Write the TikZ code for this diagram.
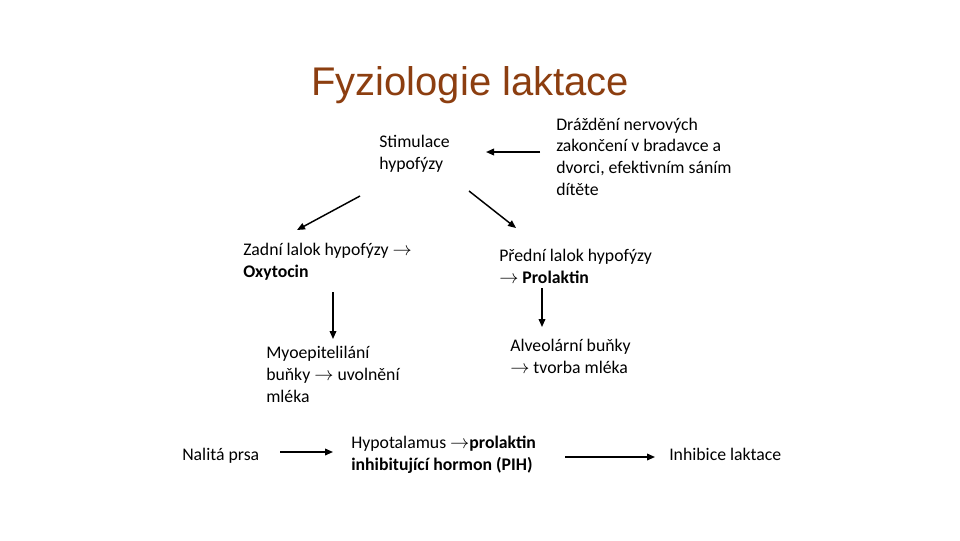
\documentclass[tikz,border=0pt]{standalone}
\usepackage{fontspec}
\usetikzlibrary{arrows.meta}
\setmainfont{Carlito}
\newfontfamily\titlefont{Liberation Sans}
\definecolor{titlebrown}{RGB}{140,62,16}
\newcommand{\ra}{$\rightarrow$}

\tikzset{
  txt/.style={anchor=base west, align=left, inner sep=0pt,
    font=\fontsize{13.3}{16.2}\selectfont},
  arr/.style={-{Triangle[length=6pt,width=5pt]}, line width=1.1pt}
}

\begin{document}
\begin{tikzpicture}[x=0.75pt, y=-0.75pt]
  \useasboundingbox (0,0) rectangle (960,540);

  \node[anchor=base west, inner sep=0pt, text=titlebrown,
    font=\titlefont\fontsize{30}{36}\selectfont] (t) at (311,95) {Fyziologie laktace};

  % base = posledni radek
  \node[txt] (s) at (379,169) {Stimulace\\hypofýzy};
  \node[txt] (d) at (556,195) {Dráždění nervových\\zakončení v bradavce a\\dvorci, efektivním sáním\\dítěte};
  \node[txt] (z) at (243,277) {Zadní lalok hypofýzy \ra\\\textbf{Oxytocin}};
  \node[txt] (p) at (499,283) {Přední lalok hypofýzy\\\ra{} \textbf{Prolaktin}};
  \node[txt] (m) at (266,402) {Myoepitelilání\\buňky \ra{} uvolnění\\mléka};
  \node[txt] (a) at (510,373) {Alveolární buňky\\\ra{} tvorba mléka};
  \node[txt] (n) at (182,460) {Nalitá prsa};
  \node[txt] (h) at (351,470) {Hypotalamus \ra\textbf{prolaktin}\\\textbf{inhibitující hormon (PIH)}};
  \node[txt] (i) at (669,460) {Inhibice laktace};

  % konce sipek
  \coordinate (d1) at (540,152);
  \coordinate (s1) at (486,152);
  \coordinate (s2) at (360,196);
  \coordinate (z1) at (297,230);
  \coordinate (s3) at (469,191);
  \coordinate (p1) at (516,228);
  \coordinate (z2) at (333,292);
  \coordinate (m1) at (333,339);
  \coordinate (p2) at (542,288);
  \coordinate (a1) at (542,327);
  \coordinate (n1) at (280,452);
  \coordinate (h1) at (333,452);
  \coordinate (h2) at (565,457);
  \coordinate (i1) at (655,457);

  \draw[arr] (d1) to (s1);
  \draw[arr] (s2) to (z1);
  \draw[arr] (s3) to (p1);
  \draw[arr] (z2) to (m1);
  \draw[arr] (p2) to (a1);
  \draw[arr] (n1) to (h1);
  \draw[arr] (h2) to (i1);

\end{tikzpicture}
\end{document}
